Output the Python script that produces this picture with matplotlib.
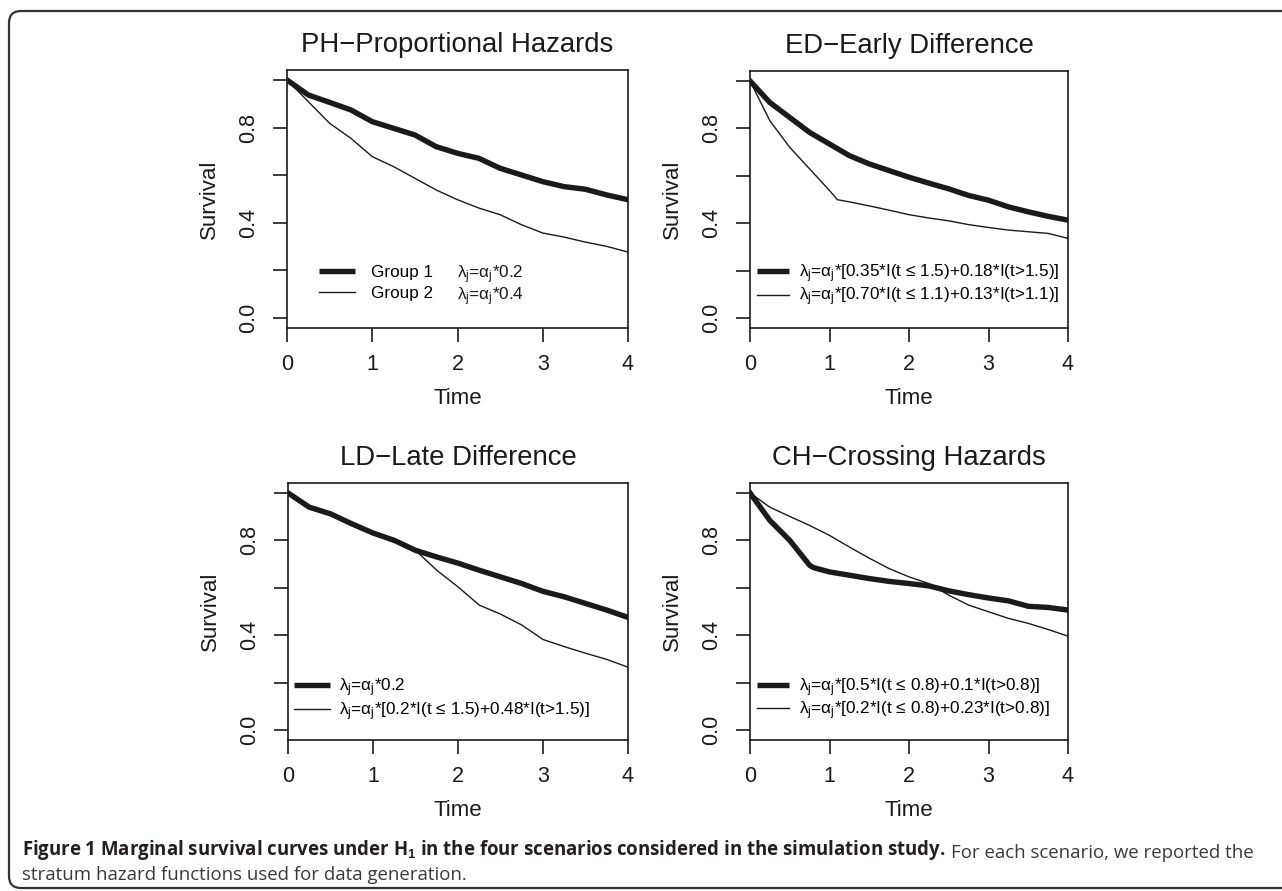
import matplotlib
matplotlib.use("Agg")
import matplotlib.pyplot as plt
from matplotlib.lines import Line2D
from matplotlib.patches import FancyBboxPatch

plt.rcParams['font.family'] = ['Liberation Sans', 'DejaVu Sans']
plt.rcParams['mathtext.fontset'] = 'custom'
plt.rcParams['mathtext.rm'] = 'Liberation Sans'
plt.rcParams['mathtext.it'] = 'Liberation Sans:italic'
plt.rcParams['mathtext.bf'] = 'Liberation Sans:bold'

# survival curves
T = [0, 0.25, 0.5, 0.75, 1.0, 1.25, 1.5, 1.75, 2.0, 2.25, 2.5, 2.75, 3.0, 3.25, 3.5, 3.75, 4.0]

ph_g1 = [1.0, 0.937, 0.906, 0.874, 0.825, 0.797, 0.769, 0.720, 0.692, 0.671, 0.629, 0.601, 0.573, 0.552, 0.541, 0.517, 0.497]
ph_g2 = [1.0, 0.909, 0.818, 0.755, 0.678, 0.636, 0.587, 0.538, 0.497, 0.462, 0.434, 0.392, 0.357, 0.340, 0.319, 0.301, 0.277]

ed_g1 = [1.0, 0.909, 0.846, 0.783, 0.734, 0.685, 0.650, 0.622, 0.594, 0.569, 0.545, 0.517, 0.497, 0.469, 0.448, 0.429, 0.413]
ed_t2 = [0, 0.25, 0.5, 0.75, 1.0, 1.1, 1.25, 1.5, 1.75, 2.0, 2.25, 2.5, 2.75, 3.0, 3.25, 3.5, 3.75, 4.0]
ed_g2 = [1.0, 0.832, 0.720, 0.629, 0.538, 0.499, 0.490, 0.473, 0.455, 0.436, 0.422, 0.410, 0.394, 0.382, 0.371, 0.364, 0.357, 0.336]

ld_g1 = [1.0, 0.940, 0.912, 0.870, 0.831, 0.800, 0.758, 0.730, 0.704, 0.674, 0.646, 0.618, 0.585, 0.562, 0.534, 0.506, 0.475]
ld_g2 = [1.0, 0.938, 0.910, 0.872, 0.829, 0.797, 0.758, 0.674, 0.604, 0.527, 0.489, 0.443, 0.382, 0.352, 0.324, 0.298, 0.265]

ch_t1 = [0, 0.25, 0.5, 0.75, 0.8, 1.0, 1.25, 1.5, 1.75, 2.0, 2.25, 2.5, 2.75, 3.0, 3.25, 3.5, 3.75, 4.0]
ch_g1 = [1.0, 0.884, 0.800, 0.695, 0.685, 0.667, 0.653, 0.639, 0.627, 0.618, 0.608, 0.587, 0.571, 0.557, 0.545, 0.522, 0.517, 0.506]
ch_g2 = [1.0, 0.940, 0.901, 0.863, 0.821, 0.772, 0.725, 0.681, 0.646, 0.618, 0.569, 0.527, 0.499, 0.471, 0.450, 0.424, 0.396]

TITLES = ["PH\u2212Proportional Hazards", "ED\u2212Early Difference",
          "LD\u2212Late Difference", "CH\u2212Crossing Hazards"]

LAM = "\u03bb$_\\mathrm{j}$=\u03b1$_\\mathrm{j}$*"
ph_lab = [LAM + "0.2", LAM + "0.4"]
ed_lab = [LAM + "[0.35*I(t \u2264 1.5)+0.18*I(t>1.5)]",
          LAM + "[0.70*I(t \u2264 1.1)+0.13*I(t>1.1)]"]
ld_lab = [LAM + "0.2", LAM + "[0.2*I(t \u2264 1.5)+0.48*I(t>1.5)]"]
ch_lab = [LAM + "[0.5*I(t \u2264 0.8)+0.1*I(t>0.8)]",
          LAM + "[0.2*I(t \u2264 0.8)+0.23*I(t>0.8)]"]

THICK = 3.9
THIN = 1.0
INK = "#1a1a1a"

W, H = 1282, 891
fig = plt.figure(figsize=(W / 100, H / 100), dpi=100)


def px_axes(x0, x1, y0, y1):
    return fig.add_axes([x0 / W, 1 - y1 / H, (x1 - x0) / W, (y1 - y0) / H])


def style(ax, title):
    ax.set_xlim(0, 4)
    ax.set_ylim(-0.042, 1.042)
    ax.set_xticks([0, 1, 2, 3, 4])
    ax.set_yticks([0, 0.2, 0.4, 0.6, 0.8, 1.0])
    ax.set_yticklabels(["0.0", "", "0.4", "", "0.8", ""], rotation=90, va="center")
    ax.tick_params(direction="out", length=10, width=1.2, labelsize=15.5, pad=9, colors=INK)
    ax.tick_params(axis="y", pad=10)
    for s in ax.spines.values():
        s.set_linewidth(1.2)
        s.set_color(INK)
    ax.set_xlabel("Time", fontsize=16, labelpad=9, color=INK)
    ax.set_ylabel("Survival", fontsize=16, labelpad=13, color=INK)
    ax.set_title(title, fontsize=19.8, pad=13, color=INK)


def legend(ax, labels, x0, y0, hl, pad, spacing=0.05):
    hs = [Line2D([], [], color=INK, lw=THICK, solid_capstyle="butt"),
          Line2D([], [], color=INK, lw=THIN)]
    ax.legend(hs, labels, loc="lower left", bbox_to_anchor=(x0, y0), frameon=False,
              fontsize=12.3, handlelength=hl, handletextpad=pad, labelspacing=spacing,
              borderpad=0, borderaxespad=0)


ax1 = px_axes(287, 628, 70, 328)
ax1.plot(T, ph_g1, color=INK, lw=THICK)
ax1.plot(T, ph_g2, color=INK, lw=THIN)
style(ax1, TITLES[0])
legend(ax1, ["Group 1", "Group 2"], 0.095, 0.103, 2.1, 0.95, spacing=0.4)
ax1.text(1.99, 0.182, ph_lab[0], fontsize=12.3, va="center", color=INK)
ax1.text(1.99, 0.09, ph_lab[1], fontsize=12.3, va="center", color=INK)

ax2 = px_axes(750, 1068, 71, 328)
ax2.plot(T, ed_g1, color=INK, lw=THICK)
ax2.plot(ed_t2, ed_g2, color=INK, lw=THIN)
style(ax2, TITLES[1])
legend(ax2, ed_lab, 0.022, 0.076, 1.85, 0.6)

ax3 = px_axes(288, 628, 483, 740)
ax3.plot(T, ld_g1, color=INK, lw=THICK)
ax3.plot(T, ld_g2, color=INK, lw=THIN)
style(ax3, TITLES[2])
legend(ax3, ld_lab, 0.018, 0.068, 2.1, 0.5)

ax4 = px_axes(750, 1068, 483, 740)
ax4.plot(ch_t1, ch_g1, color=INK, lw=THICK)
ax4.plot(T, ch_g2, color=INK, lw=THIN)
style(ax4, TITLES[3])
legend(ax4, ch_lab, 0.022, 0.07, 1.85, 0.6)

# frame and caption
cap = fig.add_axes([0, 0, 1, 1])
cap.axis("off")
cap.set_xlim(0, W)
cap.set_ylim(H, 0)
cap.add_patch(FancyBboxPatch((9, 11), 1400, 877, boxstyle="round,pad=0,rounding_size=12",
                             fill=False, ec="#333333", lw=1.6, clip_on=False))

CAP_FONT = ["Open Sans", "DejaVu Sans"]
t1 = cap.text(22, 855, "Figure 1 Marginal survival curves under H$_\\mathbf{1}$ in the four scenarios considered in the simulation study.",
              fontsize=13.4, fontweight="bold", family=CAP_FONT, color="#231f20", va="baseline")
cap.annotate("For each scenario, we reported the", xy=(1, 0), xycoords=t1, xytext=(4, 0),
             textcoords="offset points", fontsize=13.4, family=CAP_FONT, color="#3a3a3a", va="bottom")
cap.text(22, 880, "stratum hazard functions used for data generation.",
         fontsize=13.4, family=CAP_FONT, color="#3a3a3a", va="baseline")

fig.savefig("out.png", dpi=100)
